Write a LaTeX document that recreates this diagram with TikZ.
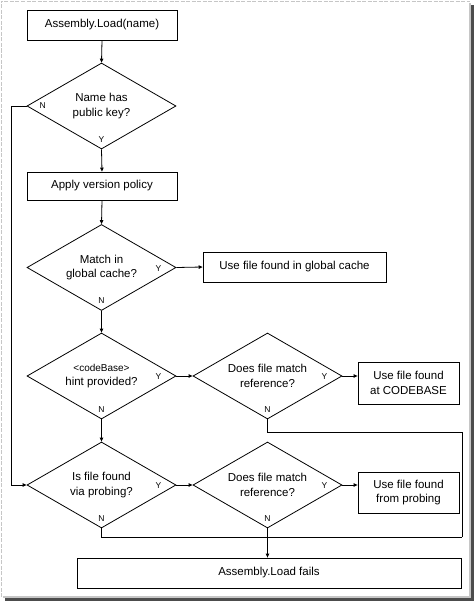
\documentclass[tikz,border=0pt]{standalone}
\usepackage{fontspec}
\setmainfont{Liberation Sans}
\usetikzlibrary{shapes.geometric,arrows.meta,calc}
\begin{document}
\begin{tikzpicture}[x=1pt,y=-1pt,
  line width=0.8pt,
  every node/.style={font=\fontsize{11.5}{14.5}\selectfont, align=center},
  procbox/.style={draw, rectangle, inner sep=0pt},
  decision/.style={draw, diamond, aspect=1.73, inner sep=0pt, minimum width=149pt, minimum height=86pt},
  yn/.style={font=\fontsize{8.5}{10}\selectfont, inner sep=0pt},
  arr/.style={-{Triangle[length=4pt,width=3.5pt]}},
  link/.style={}
]
\useasboundingbox (0,0) rectangle (475,602);
% frame
\draw[gray!45, dashed, line width=0.8pt, dash pattern=on 4pt off 1.5pt] (1,597) -- (1,1) -- (470,1);
\fill[gray!45] (469,3) rectangle (471,598);
\fill[gray!45] (3,596) rectangle (471,598);
\fill[gray!60!black] (471,5) rectangle (474,601);
\fill[gray!60!black] (5,598) rectangle (474,601);

% nodes
\node[procbox, minimum width=150pt, minimum height=30pt] (load) at (102,25) {Assembly.Load(name)};
\node[decision] (d1) at (101.5,106) {Name has\\public key?};
\node[procbox, minimum width=150pt, minimum height=28pt] (policy) at (102,186) {Apply version policy};
\node[decision] (d2) at (101.5,267.5) {Match in\\global cache?};
\node[procbox, minimum width=183pt, minimum height=30pt] (gac) at (294.5,267) {Use file found in global cache};
\node[decision] (d3) at (101.5,376) {\fontsize{10}{14.5}\selectfont<codeBase>\\hint provided?};
\node[decision] (d4) at (267.5,376) {Does file match\\reference?};
\node[procbox, minimum width=101pt, minimum height=42pt] (cb) at (408.5,383) {Use file found\\at CODEBASE};
\node[decision] (d5) at (101.5,485) {Is file found\\via probing?};
\node[decision] (d6) at (267.5,485) {Does file match\\reference?};
\node[procbox, minimum width=101pt, minimum height=41pt] (pr) at (408.5,492.5) {Use file found\\from probing};
\node[procbox, minimum width=384pt, minimum height=30pt] (fail) at (269,573) {Assembly.Load fails};

% labels
\node[yn] (n1) at ($(d1.west)+(16,0)$) {N};
\node[yn] (y1) at ($(d1.south)+(0,-10)$) {Y};
\node[yn] (y2) at ($(d2.east)+(-18,1)$) {Y};
\node[yn] (n2) at ($(d2.south)+(0,-10)$) {N};
\node[yn] (y3) at ($(d3.east)+(-18,1)$) {Y};
\node[yn] (n3) at ($(d3.south)+(0,-10)$) {N};
\node[yn] (y4) at ($(d4.east)+(-18,1)$) {Y};
\node[yn] (n4) at ($(d4.south)+(0,-10)$) {N};
\node[yn] (y5) at ($(d5.east)+(-18,1)$) {Y};
\node[yn] (n5) at ($(d5.south)+(0,-10)$) {N};
\node[yn] (y6) at ($(d6.east)+(-18,1)$) {Y};
\node[yn] (n6) at ($(d6.south)+(0,-10)$) {N};

% coordinates
\coordinate (lft) at (11,106);
\coordinate (k1) at (462,432);
\coordinate (rr) at (462,537);

% connectors
\draw[arr] (load.south) -- (d1.north);
\draw[arr] (d1.south) -- (policy.north);
\draw[arr] (policy.south) -- (d2.north);
\draw[arr] (d2.east) -- (gac.west);
\draw[arr] (d2.south) -- (d3.north);
\draw[arr] (d3.east) -- (d4.west);
\draw[arr] (d4.east) -- (d4.east -| cb.west);
\draw[arr] (d3.south) -- (d5.north);
\draw[arr] (d1.west) -- (lft) |- (d5.west);
\draw[arr] (d5.east) -- (d6.west);
\draw[arr] (d6.east) -- (d6.east -| pr.west);
\draw (d4.south) |- (k1) -- (rr);
\draw (d5.south) |- (rr);
\draw[arr] (d6.south) -- (d6.south |- fail.north);
\end{tikzpicture}
\end{document}
